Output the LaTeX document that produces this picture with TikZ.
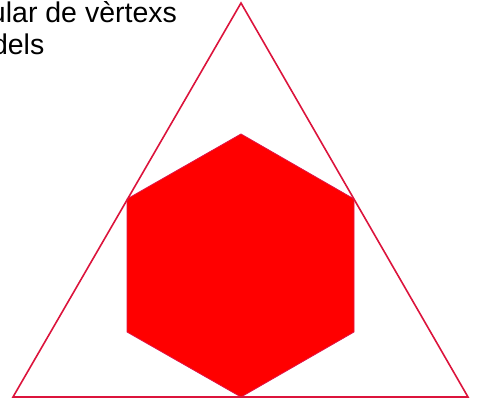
\documentclass[tikz,border=0pt]{standalone}
\usepackage{fontspec}
\setmainfont{Liberation Sans}
\definecolor{edgered}{RGB}{220,20,60}
\definecolor{hexred}{RGB}{255,0,0}
\definecolor{hexedge}{RGB}{225,20,70}
\tikzset{
  lbl/.style={inner sep=0pt, outer sep=0pt, anchor=base west, font=\fontsize{28.5}{33}\selectfont},
  tri/.style={draw=edgered, line width=1.6pt, line join=miter},
  hex/.style={fill=hexred, draw=hexedge, line width=0.8pt}
}
\begin{document}
\begin{tikzpicture}[x=1pt,y=-1pt]
\useasboundingbox (0,0) rectangle (480,403);
\clip (0,0) rectangle (480,403);
% hexagon
\coordinate (h1) at (241,134);
\coordinate (h2) at (354,199);
\coordinate (h3) at (354,332);
\coordinate (h4) at (241,397);
\coordinate (h5) at (127,332);
\coordinate (h6) at (127,199);
\draw[hex] (h1) -- (h2) -- (h3) -- (h4) -- (h5) -- (h6) -- cycle;
% triangle
\coordinate (t1) at (241,3);
\coordinate (t2) at (468,397);
\coordinate (t3) at (13,397);
\draw[tri] (t1) -- (t2) -- (t3) -- cycle;
% text
\node[lbl] (line1) at (-10,22.3) {ular de vèrtexs};
\node[lbl] (line2) at (-8,55) {dels};
\end{tikzpicture}
\end{document}
